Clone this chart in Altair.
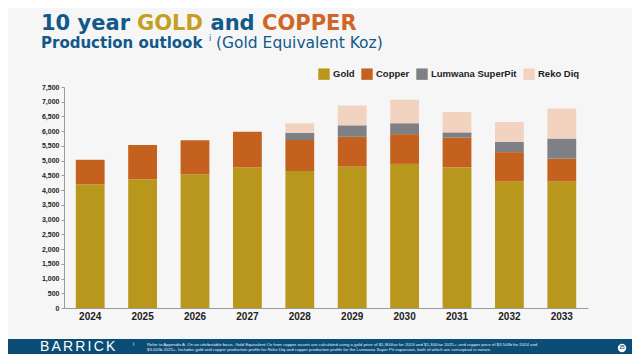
import altair as alt
import pandas as pd

years = ["2024", "2025", "2026", "2027", "2028", "2029", "2030", "2031", "2032", "2033"]
gold = [4200, 4370, 4540, 4780, 4650, 4800, 4890, 4770, 4300, 4300]
copper = [830, 1160, 1150, 1200, 1050, 1010, 1010, 1020, 990, 770]
lumwana = [0, 0, 0, 0, 250, 390, 370, 170, 350, 680]
reko = [0, 0, 0, 0, 320, 670, 800, 690, 670, 1020]
series = ["Gold", "Copper", "Lumwana SuperPit", "Reko Diq"]
colors = ["#B9971C", "#C4611E", "#7E8085", "#F1D3C0"]
y_ticks = list(range(0, 7501, 500))

rows = []
for i, y in enumerate(years):
    for k, (name, vals) in enumerate(zip(series, [gold, copper, lumwana, reko])):
        rows.append({"year": y, "series": name, "value": vals[i], "order": k})
df = pd.DataFrame(rows)

FONT = "Liberation Sans"
TFONT = "DejaVu Sans"
BLUE = "#12598A"
FOOT = "#0C4D78"

bars = alt.Chart(df).mark_bar().encode(
    x=alt.X("year:N", sort=years,
            scale=alt.Scale(paddingInner=0.45, paddingOuter=0.225),
            axis=alt.Axis(title=None, labelAngle=0, labelFontWeight="bold", labelFontSize=10,
                          labelColor="#222222", ticks=False, domainColor="#9a9a9a",
                          labelPadding=3, labelFont=FONT)),
    y=alt.Y("value:Q", stack="zero",
            scale=alt.Scale(domain=[0, 7500], nice=False),
            axis=alt.Axis(title=None, values=y_ticks, format=",.0f", grid=False,
                          labelFontWeight="bold", labelFontSize=7, labelColor="#222222",
                          domainColor="#9a9a9a", tickColor="#9a9a9a", tickSize=3,
                          labelPadding=2, labelFont=FONT)),
    color=alt.Color("series:N", scale=alt.Scale(domain=series, range=colors),
                    legend=alt.Legend(title=None, orient="none", legendX=254, legendY=-19,
                                      direction="horizontal", symbolType="square",
                                      symbolSize=130, symbolStrokeWidth=0,
                                      labelFontWeight="bold", labelFontSize=9.5,
                                      labelFont=FONT, labelColor="#222222",
                                      labelOffset=3, columnPadding=6)),
    order=alt.Order("order:Q"),
)

one = pd.DataFrame({"a": [0]})


def txt(s, x, y, size, color, weight="normal", align="left", baseline="alphabetic", font=FONT):
    return alt.Chart(one).mark_text(text=s, font=font, fontSize=size, fontWeight=weight,
                                    color=color, align=align, baseline=baseline).encode(
        x=alt.value(x), y=alt.value(y))


title_layers = [
    txt("10 year", -23, -57, 21, BLUE, "bold", font=TFONT),
    txt("GOLD", 73, -57, 21, "#C49F22", "bold", font=TFONT),
    txt("and", 146.5, -57, 21, BLUE, "bold", font=TFONT),
    txt("COPPER", 198, -57, 21, "#CF6627", "bold", font=TFONT),
    txt("Production outlook", -23, -39.5, 15, BLUE, "bold", font=TFONT),
    txt("i", 145, -46.5, 8, BLUE, "normal", font=TFONT),
    txt("(Gold Equivalent Koz)", 152, -39.5, 15.5, BLUE, "normal", font=TFONT),
]

footer = alt.Chart(one).mark_rect(color=FOOT).encode(
    x=alt.value(-56), x2=alt.value(568), y=alt.value(252), y2=alt.value(270))

note1 = ("Refer to Appendix A. On an attributable basis. Gold Equivalent Oz from copper assets are "
         "calculated using a gold price of $1,900/oz for 2024 and $1,300/oz 2025+; and copper price "
         "of $3.50/lb for 2024 and")
note2 = ("$3.00/lb 2025+.  Includes gold and copper production profile for Reko Diq and copper "
         "production profile for the Lumwana Super Pit expansion, both of which are conceptual in nature.")

# BARRICK wordmark, letter-spaced
letters = list("BARRICK")
widths = {"B": 9.3, "A": 9.3, "R": 10.1, "I": 3.9, "C": 10.1, "K": 9.3}
logo_layers = []
lx = -24
for ch in letters:
    logo_layers.append(txt(ch, lx, 264, 14, "#FFFFFF", "normal"))
    lx += widths[ch] + 2.2

footer_layers = [
    footer,
    *logo_layers,
    txt("i", 69, 259, 5, "#FFFFFF"),
    txt(note1, 83, 258.5, 4.3, "#E8EEF3"),
    txt(note2, 83, 264, 4.3, "#E8EEF3"),
    alt.Chart(one).mark_point(filled=True, color="#FFFFFF", opacity=1, size=70).encode(
        x=alt.value(558), y=alt.value(261)),
    txt("25", 558, 261, 4.5, FOOT, "bold", align="center", baseline="middle"),
]

chart = alt.layer(bars, *title_layers, *footer_layers).properties(
    width=524, height=221,
    autosize=alt.AutoSizeParams(type="none"),
    padding={"left": 56, "top": 79, "right": 44, "bottom": 46},
    background="#F6F6F6",
).configure_view(stroke=None)

chart.save("out.html", embed_options={"renderer": "svg", "actions": False})
